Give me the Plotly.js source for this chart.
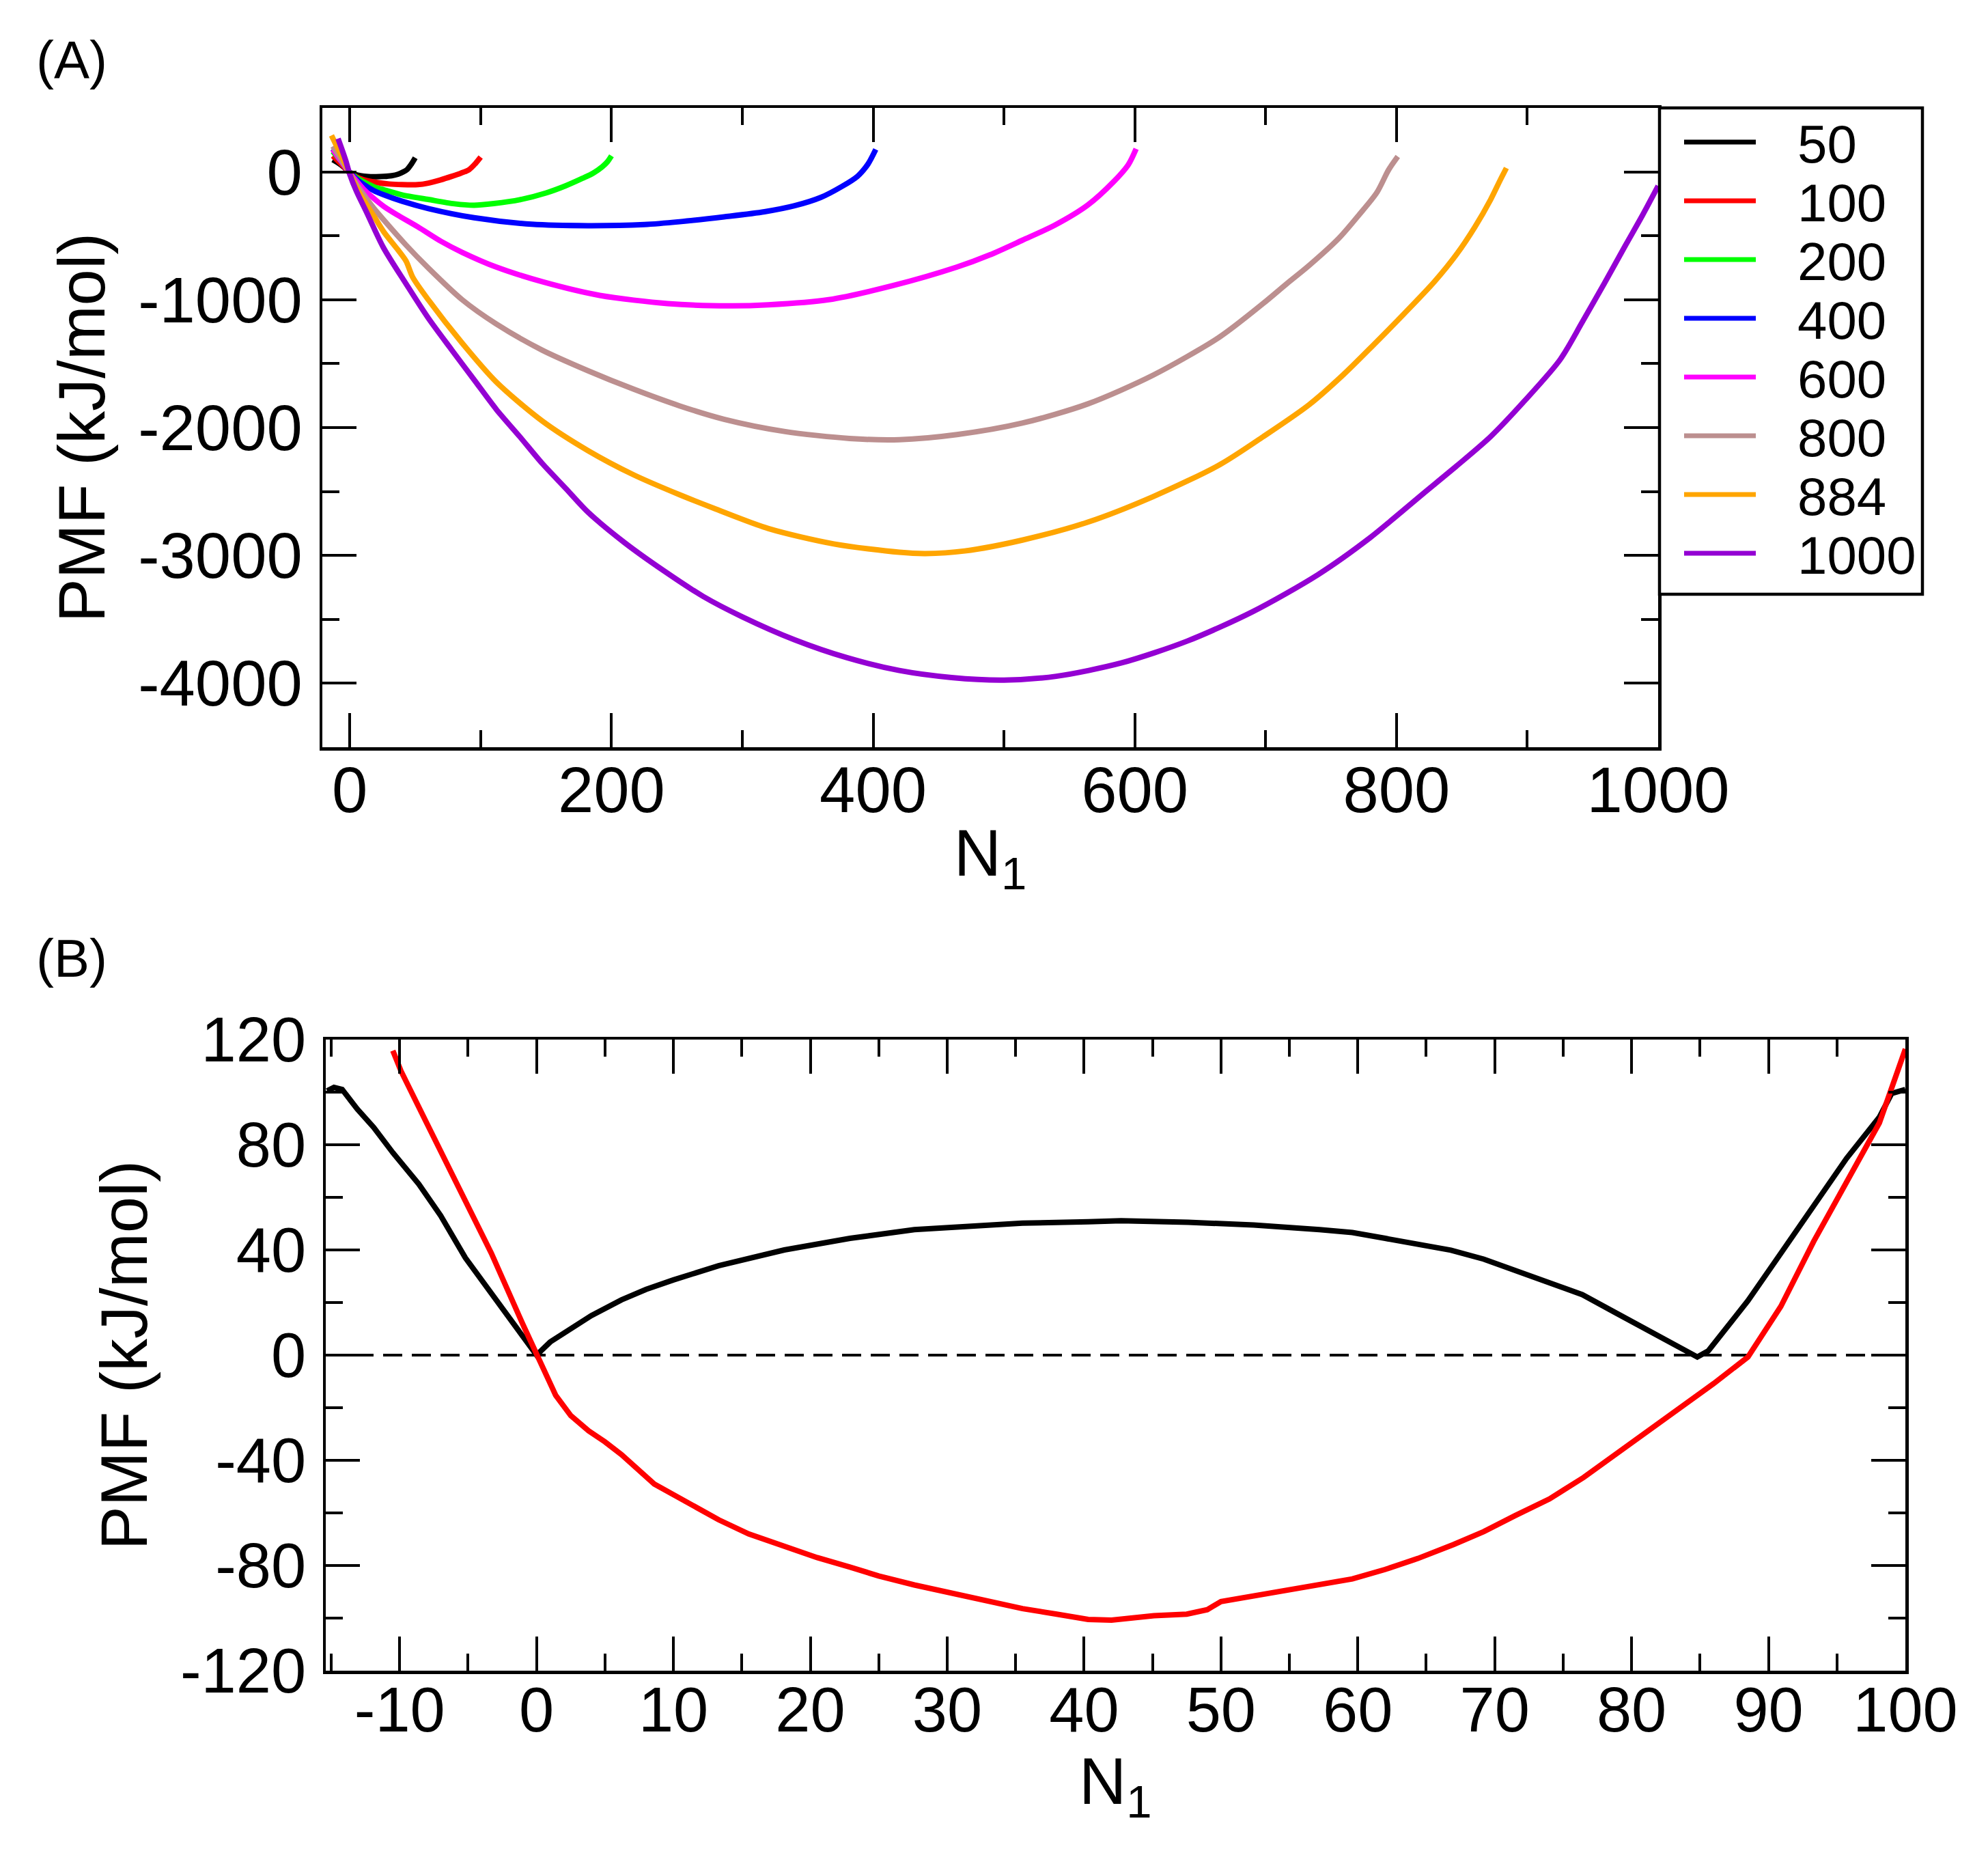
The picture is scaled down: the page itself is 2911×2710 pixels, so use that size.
<!DOCTYPE html>
<html>
<head>
<meta charset="utf-8">
<script src="https://cdn.plot.ly/plotly-3.0.1.min.js"></script>
<style>html,body{margin:0;padding:0;background:#fff;}</style>
</head>
<body>
<div id="chart" style="width:2911px;height:2710px;"></div>
<script>
// ---------- Panel A data: PMF vs N1 for different total N ----------
const seriesNames = ["50", "100", "200", "400", "600", "800", "884", "1000"];
const seriesColors = ["#000000", "#ff0000", "#00ff00", "#0000ff", "#ff00ff", "#bc8f8f", "#ffa500", "#9400d3"];

const a50X = [-13,-9,-5,-2,0,4,8,14,20,26,32,37,41,44,47,50];
const a50Y = [95,70,40,12,-5,-20,-30,-37,-38,-36,-30,-18,0,20,60,110];

const a100X = [-13,-9,-5,-2,0,5,10,20,30,40,52,60,69,78,85,91,96,100];
const a100Y = [125,85,45,12,-5,-40,-60,-82,-95,-100,-100,-88,-64,-35,-10,16,65,115];

const a200X = [-13,-9,-5,-2,0,5,10,18,26,40,60,80,95,110,130,150,165,178,186,193,197,200];
const a200Y = [160,110,60,18,-5,-45,-75,-115,-140,-180,-216,-250,-261,-248,-218,-165,-109,-50,-10,40,80,125];

const a400X = [-13,-9,-5,-2,0,5,10,18,26,40,60,95,139,182,225,252,286,317,340,360,376,388,396,402];
const a400Y = [180,120,65,18,-5,-55,-95,-145,-180,-230,-287,-359,-410,-421,-412,-390,-352,-312,-265,-200,-115,-35,60,175];

const a600X = [-13,-9,-5,-2,0,5,10,18,26,36,52,70,86,112,147,191,243,290,320,366,415,464,489,514,539,564,584,595,601];
const a600Y = [175,115,60,15,-10,-70,-130,-205,-270,-335,-430,-545,-630,-745,-859,-966,-1030,-1048,-1040,-1000,-890,-745,-650,-535,-416,-260,-75,55,180];

const a800X = [-13,-9,-5,-2,0,5,10,18,26,43,60,86,112,147,182,217,252,286,332,382,420,464,514,564,614,665,698,716,733,756,771,785,794,801];
const a800Y = [200,135,70,20,-15,-95,-170,-280,-377,-573,-752,-1001,-1190,-1394,-1555,-1700,-1830,-1935,-2030,-2085,-2095,-2055,-1965,-1815,-1590,-1290,-1030,-876,-734,-519,-341,-162,16,120];

const a884X = [-14,-10,-6,-2,0,5,10,18,26,36,43,48,60,86,112,147,182,217,252,278,320,370,420,440,470,514,564,614,665,698,733,759,782,806,829,846,860,872,879,884];
const a884Y = [285,200,115,30,-15,-120,-210,-340,-470,-600,-698,-823,-1001,-1341,-1644,-1948,-2180,-2370,-2525,-2630,-2790,-2910,-2975,-2985,-2965,-2880,-2740,-2540,-2290,-2072,-1823,-1590,-1358,-1108,-859,-644,-430,-216,-70,30];

const a1000X = [-9,-6,-3,0,5,13,25.6,43,60,78,95,112,130,147,165,182,210,240,270,300,340,380,420,460,500,540,590,640,690,740,780,806,820,846,872,898,925,942,959,975,988,1000];
const a1000Y = [260,175,85,-20,-150,-320,-591,-876,-1144,-1394,-1626,-1858,-2072,-2280,-2475,-2661,-2900,-3120,-3320,-3480,-3660,-3800,-3900,-3955,-3975,-3945,-3840,-3670,-3440,-3150,-2860,-2640,-2520,-2300,-2070,-1790,-1470,-1175,-870,-575,-340,-110];

const panelAX = [a50X, a100X, a200X, a400X, a600X, a800X, a884X, a1000X];
const panelAY = [a50Y, a100Y, a200Y, a400Y, a600Y, a800Y, a884Y, a1000Y];

// ---------- Panel B data ----------
const bBlackX = [-15.3,-14.8,-14.2,-13.9,-13.1,-11.9,-10.5,-8.6,-7,-5.2,-3.5,-1.9,-1,0,1,2.4,4,6.2,8,10,13.3,18.1,22.9,27.6,32.4,35.5,40.3,42.7,47.6,52.4,57.2,59.6,62,64.4,66.8,69.2,71.6,74,76.4,78.8,81.2,83.6,84.8,85.6,88.5,90.9,93.3,95.7,98.1,99,100];
const bBlackY = [100.5,101.8,101,98.8,93.6,86.6,77,65,53,37,25,14,7,0,5,9.5,15,21,25,28.6,34,40,44.4,47.7,49.5,50.2,50.7,51.1,50.5,49.5,47.7,46.6,44.4,42.1,39.9,36.5,32,27.5,23,16.2,9.5,2.7,-0.7,1.6,20.7,38.7,56.8,74.8,90.5,99.5,101];

const bRedX = [-10.5,-9.9,-8,-5.7,-3.3,-1,0,1.4,2.5,3.8,5,6.2,8.6,11,13.3,15.5,18.1,20.5,22.9,25,27.6,30,32.4,35.5,38,40.3,42,45.1,47.5,49,50,52,54.8,57,59.6,62,64.4,67,69.2,71.5,74,76.5,78.8,81.2,83.6,86,88.5,90.9,93.3,95.7,98.1,100];
const bRedY = [115.8,108,88,64,38.7,11.7,0,-15.3,-23,-28.8,-33,-37.8,-49,-56,-62.6,-68,-72.7,-77,-80.6,-84,-87.4,-90,-93,-96.4,-98.5,-100.5,-100.8,-99.1,-98.5,-96.8,-93.7,-92,-89.6,-87.5,-85.1,-81.5,-77.3,-72,-67.1,-61,-54.7,-46.5,-37.8,-28.8,-19.8,-10.8,-0.7,18.5,43.2,65.8,88.3,116.4];
const bColors = ["#000000", "#ff0000"];

// ---------- Tick labels ----------
const aXTicks = [0, 200, 400, 600, 800, 1000];
const aXTickText = ["0", "200", "400", "600", "800", "1000"];
const aYTicks = [0, -1000, -2000, -3000, -4000];
const aYTickText = ["0", "-1000", "-2000", "-3000", "-4000"];
const bXTicks = [-10, 0, 10, 20, 30, 40, 50, 60, 70, 80, 90, 100];
const bXTickText = ["-10", "0", "10", "20", "30", "40", "50", "60", "70", "80", "90", "100"];
const bYTicks = [120, 80, 40, 0, -40, -80, -120];
const bYTickText = ["120", "80", "40", "0", "-40", "-80", "-120"];

// ---------- Build figure ----------
const W = 2911, H = 2710;
const FONT = "Liberation Sans, Arial, Helvetica, sans-serif";
const px = v => v / W;
const py = v => 1 - v / H;

const traces = [];
panelAX.forEach((xs, i) => {
  traces.push({
    x: xs, y: panelAY[i], type: "scatter", mode: "lines", name: seriesNames[i],
    xaxis: "x", yaxis: "y", showlegend: false,
    line: {color: seriesColors[i], width: 8, shape: "spline", smoothing: 0.8}
  });
});
traces.push({x: bBlackX, y: bBlackY, type: "scatter", mode: "lines", name: "black",
  xaxis: "x2", yaxis: "y2", showlegend: false, line: {color: bColors[0], width: 8}});
traces.push({x: bRedX, y: bRedY, type: "scatter", mode: "lines", name: "red",
  xaxis: "x2", yaxis: "y2", showlegend: false, line: {color: bColors[1], width: 8}});

function axis(extra) {
  return Object.assign({
    showline: true, linecolor: "#000", linewidth: 4.5, mirror: "ticks",
    ticks: "inside", ticklen: 50, tickwidth: 4, tickcolor: "#000",
    showgrid: false, zeroline: false, fixedrange: true,
    tickmode: "array",
    tickfont: {family: FONT, size: 94, color: "#000"}
  }, extra);
}
const minorStyle = (dt) => ({ticks: "inside", ticklen: 25, tickwidth: 4, tickcolor: "#000", dtick: dt, tick0: 0, showgrid: false});

// legend geometry (panel A)
const legLeft = 2430, legRight = 2815, legTop = 158, legBottom = 870;
const legRow0 = 208, legStep = 86;
const shapes = [
  {type: "rect", xref: "paper", yref: "paper", x0: px(legLeft), x1: px(legRight), y0: py(legBottom), y1: py(legTop),
   line: {color: "#000", width: 4.5}, fillcolor: "rgba(255,255,255,1)", layer: "above"},
  {type: "line", xref: "x2 domain", yref: "y2", x0: 0, x1: 1, y0: 0, y1: 0,
   line: {color: "#000", width: 4, dash: "28px,14px"}, layer: "below"}
];
const annotations = [
  {text: "(A)", xref: "paper", yref: "paper", x: px(105), y: py(88), showarrow: false,
   xanchor: "center", yanchor: "middle", font: {family: FONT, size: 78, color: "#000"}},
  {text: "(B)", xref: "paper", yref: "paper", x: px(105), y: py(1403), showarrow: false,
   xanchor: "center", yanchor: "middle", font: {family: FONT, size: 78, color: "#000"}},
  {text: "N<sub>1</sub>", xref: "x2 domain", yref: "paper", x: 0.5, y: py(2614), showarrow: false,
   xanchor: "center", yanchor: "middle", font: {family: FONT, size: 96, color: "#000"}}
];
seriesNames.forEach((nm, i) => {
  const yy = legRow0 + i * legStep;
  shapes.push({type: "line", xref: "paper", yref: "paper", x0: px(2466), x1: px(2571), y0: py(yy), y1: py(yy),
    line: {color: seriesColors[i], width: 7}, layer: "above"});
  annotations.push({text: nm, xref: "paper", yref: "paper", x: px(2630), y: py(yy + 3), showarrow: false,
    xanchor: "left", yanchor: "middle", font: {family: FONT, size: 78, color: "#000"}});
});

const layout = {
  width: W, height: H,
  margin: {l: 0, r: 0, t: 0, b: 0, pad: 0},
  paper_bgcolor: "#fff", plot_bgcolor: "#fff",
  showlegend: false,
  font: {family: FONT, color: "#000"},
  xaxis: axis({
    domain: [px(472), px(2428)], range: [-21, 1000], anchor: "y",
    tickvals: aXTicks, ticktext: aXTickText, minor: minorStyle(100),
    ticklabelstandoff: -22,
    title: {text: "N<sub>1</sub>", font: {family: FONT, size: 96, color: "#000"}, standoff: 8}
  }),
  yaxis: axis({
    domain: [py(1094), py(158)], range: [-4500, 500], anchor: "x",
    tickvals: aYTicks, ticktext: aYTickText, minor: minorStyle(500),
    ticklabelstandoff: 6,
    title: {text: "PMF (kJ/mol)", font: {family: FONT, size: 96, color: "#000"}, standoff: 18}
  }),
  xaxis2: axis({
    domain: [px(477), px(2790)], range: [-15.4, 100], anchor: "y2",
    tickvals: bXTicks, ticktext: bXTickText, minor: minorStyle(5),
    tickfont: {family: FONT, size: 92, color: "#000"},
    ticklabelstandoff: -26
  }),
  yaxis2: axis({
    domain: [py(2446), py(1522)], range: [-120, 120], anchor: "x2",
    tickvals: bYTicks, ticktext: bYTickText, minor: minorStyle(20),
    tickfont: {family: FONT, size: 92, color: "#000"},
    ticklabelstandoff: 6,
    title: {text: "PMF (kJ/mol)", font: {family: FONT, size: 96, color: "#000"}, standoff: 18}
  }),
  shapes: shapes,
  annotations: annotations
};

Plotly.newPlot("chart", traces, layout, {displayModeBar: false, staticPlot: true});
</script>
</body>
</html>
